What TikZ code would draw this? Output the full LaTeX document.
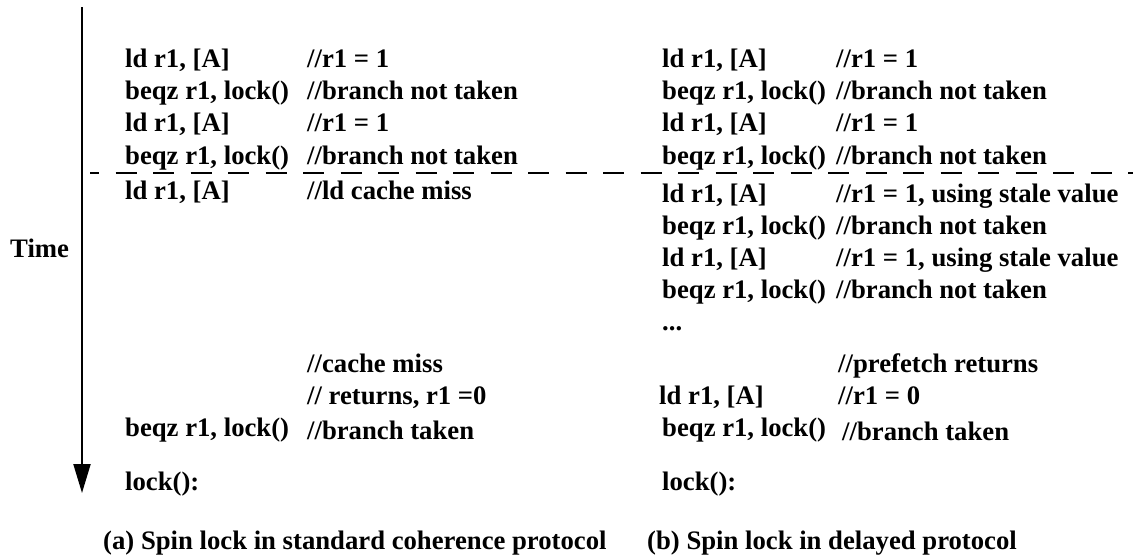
\documentclass[tikz,border=0pt]{standalone}
\usepackage{fontspec}
\setmainfont{Liberation Serif}
\usetikzlibrary{arrows.meta}
\begin{document}
\begin{tikzpicture}[x=1pt,y=-1pt,
  code/.style={anchor=base west,inner sep=0pt,font=\fontsize{26.7}{26.7}\selectfont\bfseries},
  timeaxis/.style={line width=2pt,-{Triangle[length=29pt,width=17pt]}},
  split/.style={line width=2pt,dash pattern=on 21pt off 16.5pt,dash phase=12pt}]
\useasboundingbox (0,0) rectangle (1133,558);

% time axis
\coordinate (tTop) at (82,7);
\coordinate (tEnd) at (82,493);
\draw[timeaxis] (tTop) -- (tEnd);
\node[code] (time) at (10,257) {Time};

% boundary between the two phases
\coordinate (sL) at (90,173);
\coordinate (sR) at (1133,173);
\draw[split] (sL) -- (sR);

% (a) standard coherence protocol
\node[code] (a1) at (125,67)  {ld r1, [A]};
\node[code] (a1c) at (307,67) {//r1 = 1};
\node[code] (a2) at (125,99)  {beqz r1, lock()};
\node[code] (a2c) at (307,99) {//branch not taken};
\node[code] (a3) at (125,131) {ld r1, [A]};
\node[code] (a3c) at (307,131) {//r1 = 1};
\node[code] (a4) at (125,164) {beqz r1, lock()};
\node[code] (a4c) at (307,164) {//branch not taken};
\node[code] (a5) at (125,199) {ld r1, [A]};
\node[code] (a5c) at (307,199) {//ld cache miss};
\node[code] (a6c) at (307,372) {//cache miss};
\node[code] (a7c) at (307,404) {// returns, r1 =0};
\node[code] (a8) at (125,436) {beqz r1, lock()};
\node[code] (a8c) at (307,439) {//branch taken};
\node[code] (a9) at (125,490) {lock():};
\node[code] (capA) at (103,549) {(a) Spin lock in standard coherence protocol};

% (b) delayed protocol
\node[code] (b1) at (662,67)  {ld r1, [A]};
\node[code] (b1c) at (836,67) {//r1 = 1};
\node[code] (b2) at (662,99)  {beqz r1, lock()};
\node[code] (b2c) at (836,99) {//branch not taken};
\node[code] (b3) at (662,131) {ld r1, [A]};
\node[code] (b3c) at (836,131) {//r1 = 1};
\node[code] (b4) at (662,164) {beqz r1, lock()};
\node[code] (b4c) at (836,164) {//branch not taken};
\node[code] (b5) at (662,202) {ld r1, [A]};
\node[code] (b5c) at (836,202) {//r1 = 1, using stale value};
\node[code] (b6) at (662,234) {beqz r1, lock()};
\node[code] (b6c) at (836,234) {//branch not taken};
\node[code] (b7) at (662,266) {ld r1, [A]};
\node[code] (b7c) at (836,266) {//r1 = 1, using stale value};
\node[code] (b8) at (662,298) {beqz r1, lock()};
\node[code] (b8c) at (836,298) {//branch not taken};
\node[code] (b9) at (662,330) {...};
\node[code] (b10c) at (838,372) {//prefetch returns};
\node[code] (b11) at (659,404) {ld r1, [A]};
\node[code] (b11c) at (838,404) {//r1 = 0};
\node[code] (b12) at (662,436) {beqz r1, lock()};
\node[code] (b12c) at (842,440) {//branch taken};
\node[code] (b13) at (662,490) {lock():};
\node[code] (capB) at (647,549) {(b) Spin lock in delayed protocol};
\end{tikzpicture}
\end{document}
